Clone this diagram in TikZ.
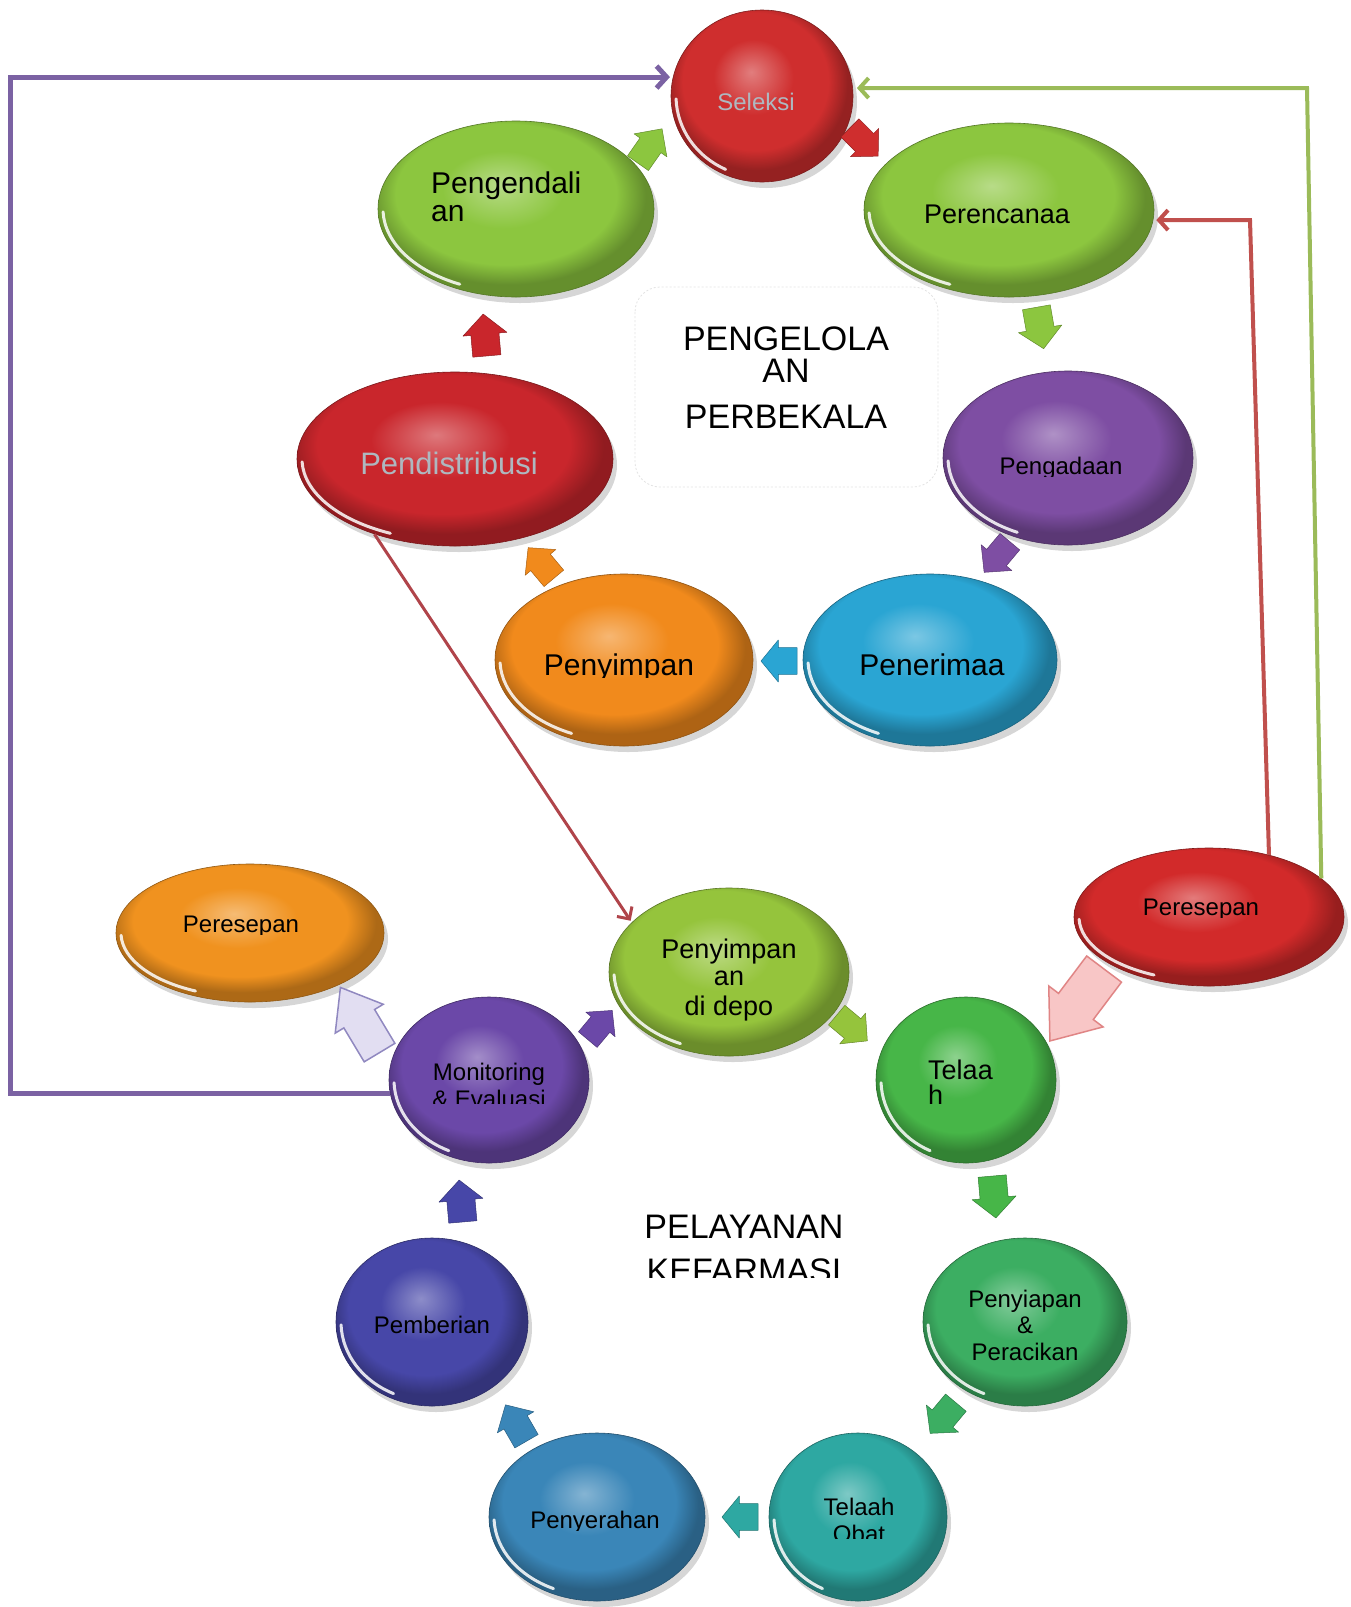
\documentclass[tikz,border=0pt]{standalone}
\usepackage{fontspec}
\setmainfont{Liberation Sans}
\usetikzlibrary{shapes.geometric,arrows.meta}
\definecolor{cSel}{HTML}{CF2E2E}
\definecolor{cLg}{HTML}{8CC63F}
\definecolor{cLg2}{HTML}{95C43C}
\definecolor{cDr}{HTML}{C9262C}
\definecolor{cPur}{HTML}{7E4EA3}
\definecolor{cCy}{HTML}{2AA5D3}
\definecolor{cOr}{HTML}{F18A1C}
\definecolor{cOr2}{HTML}{F0921F}
\definecolor{cRd}{HTML}{D22A2A}
\definecolor{cPur2}{HTML}{6B48A8}
\definecolor{cGr}{HTML}{47B648}
\definecolor{cGr2}{HTML}{3CAE62}
\definecolor{cInd}{HTML}{4747A8}
\definecolor{cTeal}{HTML}{2EA8A2}
\definecolor{cSteel}{HTML}{3A86B8}
\definecolor{cGrayTxt}{HTML}{AEB8C0}
\definecolor{lnPur}{HTML}{7B62A3}
\definecolor{lnGrn}{HTML}{9BBB59}
\definecolor{lnRed}{HTML}{C0504D}
\definecolor{lnDia}{HTML}{B0444A}
\definecolor{pinkF}{HTML}{F8C6C6}
\definecolor{pinkD}{HTML}{E08585}
\definecolor{lavF}{HTML}{E2DEF2}
\definecolor{lavD}{HTML}{9088C0}
\colorlet{bubA}{white}\colorlet{bubB}{gray}\colorlet{bubC}{black}
\pgfdeclareradialshading[bubA,bubB,bubC]{bubble}{\pgfqpoint{-3bp}{7bp}}{color(0bp)=(bubA); color(11bp)=(bubB); color(20bp)=(bubB); color(25bp)=(bubC); color(50bp)=(bubC)}
\newcommand\bubble[6]{%
  \colorlet{bubA}{#6!62!white}\colorlet{bubB}{#6}\colorlet{bubC}{#6!72!black}%
  \fill[black, opacity=.16] (#2+4,#3+6) ellipse [x radius=#4, y radius=#5];
  \node[ellipse, inner sep=0, minimum width={2*#4pt}, minimum height={2*#5pt}, shade, shading=bubble, draw=#6!60!black, line width=.6pt] (#1) at (#2,#3) {};
  \draw[white, opacity=.85, line width=3pt, line cap=round] ([shift={(115:{#4-5} and {#5-5})}]#2,#3) arc[start angle=115, end angle=178, x radius={#4-5}, y radius={#5-5}];
}
\newcommand\txt[6]{\node[font=\fontsize{#4}{#4}\selectfont, text=#5, anchor=base, inner sep=0] (#1) at (#2,#3) {#6};}
\newcommand\ltxt[6]{\node[font=\fontsize{#4}{#4}\selectfont, text=#5, anchor=base west, inner sep=0] (#1) at (#2,#3) {#6};}
\newcommand\ctxt[7]{\begin{scope}\clip (#2-250,#3-80) rectangle (#2+250,#7);\txt{#1}{#2}{#3}{#4}{#5}{#6}\end{scope}}
% block arrow: name, x, y, angle, length, head width, style
\newcommand\barrow[7]{\begin{scope}[shift={(#2,#3)}, rotate=#4]
  \path[#7] ({-#5/2},{-0.32*#6}) -- ({#5/2-0.48*#5},{-0.32*#6}) -- ({#5/2-0.48*#5},{-#6/2}) -- ({#5/2},0) -- ({#5/2-0.48*#5},{#6/2}) -- ({#5/2-0.48*#5},{0.32*#6}) -- ({-#5/2},{0.32*#6}) -- cycle;
  \node[inner sep=0] (#1) at (0,0) {};
\end{scope}}
\tikzset{
  sarrow/.style={fill=#1, draw=#1!70!black, line width=.5pt, line join=round},
  purpline/.style={draw=lnPur, line width=5pt, -{Straight Barb[length=10pt,width=22pt]}, shorten >=3pt},
  grnline/.style={draw=lnGrn, line width=4pt, -{Straight Barb[length=9pt,width=20pt]}, shorten >=4pt},
  redline/.style={draw=lnRed, line width=4pt, -{Straight Barb[length=9pt,width=20pt]}, shorten >=3pt},
  dialine/.style={draw=lnDia, line width=3pt, -{Straight Barb[length=9pt,width=18pt]}, shorten >=2pt},
}
\begin{document}
\begin{tikzpicture}[x=1pt,y=-1pt]
\useasboundingbox[fill=white] (0,0) rectangle (1351,1607);
% centre box
\draw[gray!22, line width=.8pt, dash pattern=on 2pt off 2pt, rounded corners=25pt] (635,287) rectangle (938,487);
\node[inner sep=0] (box) at (786,387) {};
% top cycle
\bubble{sel}{762}{96}{91}{86}{cSel}
\bubble{pgd}{516}{209}{138}{88}{cLg}
\bubble{per}{1009}{210}{145}{87}{cLg}
\bubble{pd}{455}{459}{158}{87}{cDr}
\bubble{pga}{1068}{458}{125}{87}{cPur}
\bubble{pnr}{930}{660}{127}{86}{cCy}
\bubble{pny}{624}{660}{129}{86}{cOr}
% bottom cycle
\bubble{prl}{250}{933}{134}{69}{cOr2}
\bubble{dep}{729}{972}{120}{84}{cLg2}
\bubble{prr}{1209}{917}{135}{69}{cRd}
\bubble{mon}{489}{1080}{100}{83}{cPur2}
\bubble{tel}{966}{1080}{90}{83}{cGr}
\bubble{psp}{1025}{1322}{102}{84}{cGr2}
\bubble{pmb}{432}{1322}{96}{84}{cInd}
\bubble{tob}{858}{1517}{89}{84}{cTeal}
\bubble{psy}{597}{1517}{108}{84}{cSteel}
% block arrows
\barrow{a1}{864}{142}{-45}{40}{40}{sarrow=cSel}
\barrow{a2}{1040}{328}{-80}{42}{44}{sarrow=cLg}
\barrow{a3}{997}{557}{-130}{40}{40}{sarrow=cPur}
\barrow{a4}{779}{661}{180}{36}{42}{sarrow=cCy}
\barrow{a5}{541}{563}{130}{40}{40}{sarrow=cOr}
\barrow{a6}{485}{335}{95}{42}{44}{sarrow=cDr}
\barrow{a7}{650}{146}{55}{42}{40}{sarrow=cLg}
\barrow{b1}{852}{1028}{-40}{40}{40}{sarrow=cLg2}
\barrow{b2}{994}{1197}{-85}{42}{44}{sarrow=cGr}
\barrow{b3}{943}{1418}{-130}{40}{42}{sarrow=cGr2}
\barrow{b4}{740}{1517}{180}{36}{42}{sarrow=cTeal}
\barrow{b5}{516}{1423}{120}{42}{42}{sarrow=cSteel}
\barrow{b6}{461}{1201}{95}{42}{44}{sarrow=cInd}
\barrow{b7}{600}{1025}{50}{38}{38}{sarrow=cPur2}
\barrow{b8}{360}{1020}{121}{76}{56}{fill=lavF, draw=lavD, line width=1.5pt}
\barrow{b9}{1077}{1005}{-127}{90}{68}{fill=pinkF, draw=pinkD, line width=1.5pt}
% connectors
\coordinate (lx) at (10,0);
\coordinate (gx) at (1307,0);
\coordinate (rcx) at (1250,0);
\draw[purpline] (mon.188) -- (mon.188 -| lx) -- (sel.168 -| lx) -- (sel.168);
\draw[grnline] (prr.19) -- (gx |- sel.5) -- (sel.5);
\draw[redline] (prr.46) -- (rcx |- per.356) -- (per.356);
\draw[dialine] (pd.223) -- (dep.153);
% texts
\txt{t-sel}{756}{110}{24}{cGrayTxt}{Seleksi}
\ltxt{t-pgd1}{431}{193}{30}{black}{Pengendali}
\ltxt{t-pgd2}{431}{221}{30}{black}{an}
\txt{t-per}{997}{223}{27}{black}{Perencanaa}
\txt{t-c1}{786}{350}{34}{black}{PENGELOLA}
\txt{t-c2}{786}{382}{34}{black}{AN}
\txt{t-c3}{786}{428}{34}{black}{PERBEKALA}
\txt{t-pd}{449}{474}{31}{cGrayTxt}{Pendistribusi}
\ctxt{t-pga}{1061}{474}{24}{black}{Pengadaan}{476}
\txt{t-pnr}{932}{675}{30}{black}{Penerimaa}
\ctxt{t-pny}{619}{675}{30}{black}{Penyimpan}{677}
\ctxt{t-prl}{241}{932}{24}{black}{Peresepan}{934}
\ctxt{t-prr}{1201}{915}{24}{black}{Peresepan}{917}
\txt{t-dep1}{729}{958}{27}{black}{Penyimpan}
\txt{t-dep2}{729}{985}{27}{black}{an}
\txt{t-dep3}{729}{1015}{27}{black}{di depo}
\txt{t-mon1}{489}{1080}{24}{black}{Monitoring}
\ctxt{t-mon2}{489}{1107}{24}{black}{\& Evaluasi}{1103}
\ltxt{t-tel1}{928}{1079}{27}{black}{Telaa}
\ltxt{t-tel2}{928}{1104}{27}{black}{h}
\txt{t-k1}{744}{1238}{34}{black}{PELAYANAN}
\ctxt{t-k2}{744}{1282}{34}{black}{KEFARMASI}{1277}
\txt{t-psp1}{1025}{1307}{24}{black}{Penyiapan}
\txt{t-psp2}{1025}{1333}{24}{black}{\&}
\txt{t-psp3}{1025}{1360}{24}{black}{Peracikan}
\txt{t-pmb}{432}{1333}{24}{black}{Pemberian}
\txt{t-tob1}{859}{1515}{24}{black}{Telaah}
\ctxt{t-tob2}{859}{1542}{24}{black}{Obat}{1538}
\ctxt{t-psy}{595}{1528}{24}{black}{Penyerahan}{1530}
\end{tikzpicture}
\end{document}
